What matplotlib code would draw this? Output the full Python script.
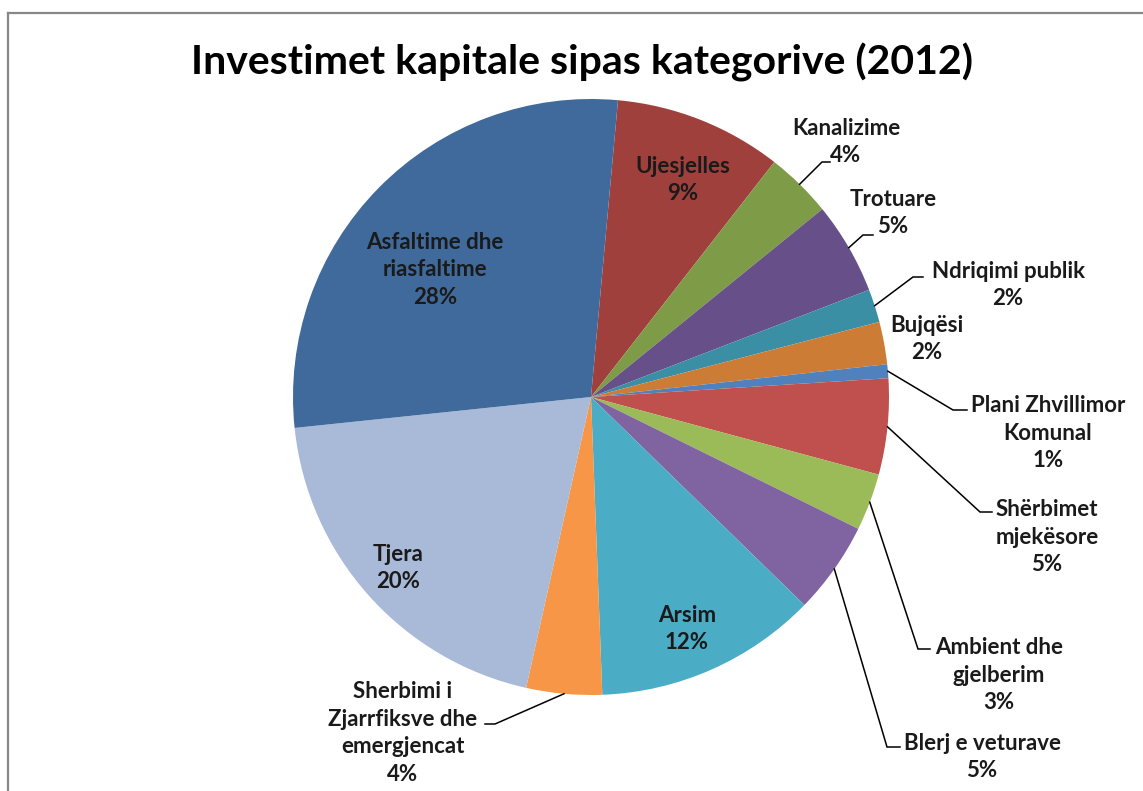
import numpy as np
import matplotlib.pyplot as plt

W, H = 1143, 791

# slices, clockwise from the top
categories = ["Ujesjelles", "Kanalizime", "Trotuare", "Ndriqimi publik", "Bujqësi",
              "Plani Zhvillimor\nKomunal", "Shërbimet\nmjekësore", "Ambient dhe\ngjelberim",
              "Blerj e veturave", "Arsim", "Sherbimi i\nZjarrfiksve dhe\nemergjencat",
              "Tjera", "Asfaltime dhe\nriasfaltime"]
shares = [9.1, 3.6, 5.0, 1.8, 2.3, 0.75, 5.2, 3.1, 5.0, 12.1, 4.1, 19.85, 28.1]
colors = ["#A0403D", "#7E9C48", "#674F89", "#3B8FA5", "#CD7C36", "#4F81BD", "#C0504D",
          "#9BBB59", "#8064A2", "#4BACC6", "#F79646", "#A9B9D8", "#3F6A9B"]

# label block centres (pixels, from top-left) and leader elbows (None = no leader)
label_pos = [(683, 180), (846, 142), (893, 213), (1008, 285), (927, 339),
             (1048, 433), (1047, 537), (999, 675), (982, 757), (687, 629),
             (403, 733), (398, 568), (435, 270)]
elbows = [None, (822, 162), (863, 235), (913, 277), None,
          (953, 410), (980, 512), (918, 649), (887, 747), None,
          (495, 724), None, None]
ends = [None, (830, 162), (873, 235), (923, 277), None,
        (967, 410), (992, 512), (930, 649), (900, 747), None,
        (485, 724), None, None]

plt.rcParams["font.family"] = ["Lato", "DejaVu Sans"]

fig = plt.figure(figsize=(W / 100, H / 100), dpi=100)
ax = fig.add_axes([0, 0, 1, 1])

cx, cy, r = 591, H - 397, 298
wedges, _ = ax.pie(shares, colors=colors, startangle=90 - 5.2, counterclock=False,
                   center=(cx, cy), radius=r, wedgeprops=dict(linewidth=0))
ax.set_xlim(0, W)
ax.set_ylim(0, H)
ax.set_aspect("equal")
ax.axis("off")

for i, w in enumerate(wedges):
    pct = f"{round(shares[i] / sum(shares) * 100)}%"
    lx, ly = label_pos[i]
    ax.text(lx, H - ly, categories[i] + "\n" + pct, ha="center", va="center",
            fontsize=16, fontweight="bold", color="#1a1a1a", linespacing=1.4)
    if elbows[i] is not None:
        mid = np.deg2rad((w.theta1 + w.theta2) / 2)
        ax_, ay_ = cx + r * np.cos(mid), cy + r * np.sin(mid)
        ex, ey = elbows[i]
        tx, ty = ends[i]
        ax.plot([ax_, ex, tx], [ay_, H - ey, H - ty], color="black", lw=1.1,
                solid_joinstyle="miter")

# chart frame (top and left edges visible)
ax.plot([8, W], [H - 13, H - 13], color="#878787", lw=1.6, clip_on=False)
ax.plot([8, 8], [H - 13, 0], color="#878787", lw=1.6, clip_on=False)

fig.text(582 / W, 1 - 62 / H, "Investimet kapitale sipas kategorive (2012)",
         ha="center", va="center", fontsize=29.5, fontweight="bold", color="black")

fig.savefig("out.png", dpi=100)
